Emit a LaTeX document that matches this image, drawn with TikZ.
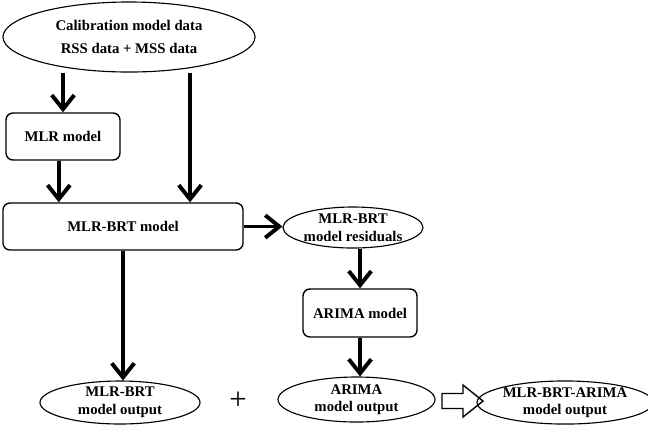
\documentclass[tikz,border=0pt]{standalone}
\usepackage{fontspec}
\setmainfont{Liberation Serif}
\usetikzlibrary{shapes.geometric,arrows.meta}

\tikzset{
  dataell/.style={draw, ellipse, line width=0.8pt, inner sep=0pt, align=center,
    font=\fontsize{10.5}{12.5}\selectfont\bfseries},
  modelbox/.style={draw, rectangle, rounded corners=5pt, line width=1pt, inner sep=0pt,
    align=center, font=\fontsize{10.5}{12.5}\selectfont\bfseries},
  flow/.style={line width=2.8pt, -{Straight Barb[length=10pt,width=16pt]}}
}

\begin{document}
\begin{tikzpicture}[x=0.025cm,y=-0.025cm]
  \useasboundingbox (0,0) rectangle (648,424);

  %inputs
  \node[dataell, minimum width=6.3cm, minimum height=1.75cm,
    font=\fontsize{10.5}{16.5}\selectfont\bfseries] (calib) at (129,37)
    {Calibration model data\\RSS data + MSS data};

  %models
  \node[modelbox, minimum width=2.85cm, minimum height=1.175cm] (mlr) at (63,136.5) {MLR model};
  \node[modelbox, minimum width=6.0cm, minimum height=1.175cm] (brt) at (123,226.5) {MLR-BRT model};
  \node[dataell, minimum width=3.5cm, minimum height=1.025cm] (resid) at (353,227.5)
    {MLR-BRT\\model residuals};
  \node[modelbox, minimum width=2.85cm, minimum height=1.2cm] (arima) at (360,313) {ARIMA model};

  %outputs
  \node[dataell, minimum width=4.0cm, minimum height=0.975cm] (brtout) at (120,402.5)
    {MLR-BRT\\model output};
  \node[font=\fontsize{22}{22}\selectfont] (plus) at (238,401) {+};
  \node[dataell, minimum width=3.925cm, minimum height=1.125cm] (arout) at (356.5,399.5)
    {ARIMA\\model output};
  \node[dataell, minimum width=4.0cm, minimum height=1.025cm] (final) at (565,402.5)
    {MLR-BRT-ARIMA\\model output};

  %hollow arrow
  \draw[line width=1pt, line join=miter] (442,393.5) -- (463,393.5) -- (463,385) -- (483,401)
    -- (463,417) -- (463,408.5) -- (442,408.5) -- cycle;

  %connections
  \draw[flow] (calib.south -| mlr.north) -- (mlr.north);
  \draw[flow] ([xshift=1.525cm]calib.south) -- ([xshift=1.525cm]calib.south |- brt.north);
  \draw[flow] ([xshift=-3pt]mlr.south) -- ([xshift=-3pt]mlr.south |- brt.north);
  \draw[flow] (brt.east) -- (brt.east -| resid.west);
  \draw[flow] (resid.south -| arima.north) -- (arima.north);
  \draw[flow] (arima.south) -- (arima.south |- arout.north);
  \draw[flow] (brt.south) -- (brt.south |- brtout.north);

\end{tikzpicture}
\end{document}
